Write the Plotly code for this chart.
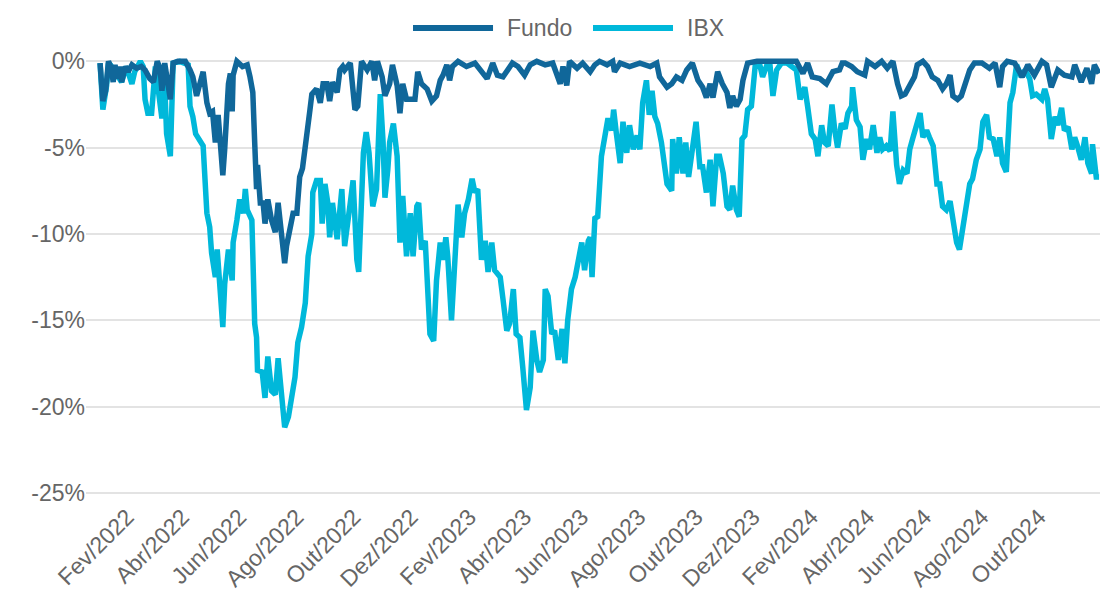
import pandas as pd
import plotly.graph_objects as go

# Drawdown (%) of the fund and of the IBX index, indexed by days since the first session
INICIO = pd.Timestamp("2022-01-03")

fundo_dias = [
    0, 3, 6, 9, 12, 14, 16, 18, 21, 23,
    27, 30, 34, 39, 44, 48, 53, 57, 61, 64,
    66, 69, 75, 78, 83, 91, 96, 99, 103, 107,
    110, 114, 117, 120, 123, 126, 130, 131, 133, 135,
    137, 139, 141, 142, 146, 152, 157, 160, 163, 165,
    167, 168, 171, 174, 176, 179, 183, 187, 190, 194,
    197, 199, 203, 206, 210, 213, 216, 221, 224, 226,
    231, 235, 238, 242, 245, 248, 253, 256, 259, 261,
    267, 272, 275, 279, 285, 290, 293, 296, 301, 304,
    309, 312, 317, 320, 323, 327, 333, 336, 339, 343,
    349, 354, 359, 363, 366, 370, 373, 376, 382, 391,
    400, 405, 413, 419, 424, 430, 435, 440, 446, 453,
    459, 466, 475, 483, 491, 494, 498, 501, 509, 515,
    523, 528, 533, 541, 547, 549, 555, 565, 576, 587,
    594, 597, 605, 610, 615, 621, 626, 632, 638, 643,
    647, 651, 654, 659, 664, 669, 672, 675, 679, 683,
    686, 691, 701, 715, 731, 743, 747, 750, 755, 760,
    768, 775, 782, 789, 792, 795, 802, 808, 816, 819,
    827, 834, 840, 846, 851, 855, 859, 864, 869, 872,
    878, 883, 888, 894, 899, 903, 907, 910, 915, 919,
    923, 928, 933, 941, 949, 955, 960, 963, 968, 976,
    984, 990, 997, 1005, 1010, 1015, 1022, 1029, 1037, 1040,
    1047, 1053, 1058, 1061, 1066,
]
fundo_dd = [
    -0.1, -2.3, -1.7, 0.0, -0.4, -1.2, -0.2, -1.0, -0.3, -1.2,
    -0.3, -0.6, -0.2, -0.4, -0.3, -0.5, -1.0, -1.2, 0.0, -0.4,
    -1.7, -0.1, -2.2, -0.1, 0.0, 0.0, -0.5, -0.9, -2.0, -1.1,
    -0.6, -2.4, -3.0, -2.9, -4.7, -3.1, -5.9, -6.6, -5.1, -2.8,
    -1.3, -0.7, -2.9, -0.8, 0.0, -0.3, -0.2, -0.9, -1.8, -4.7,
    -7.4, -6.0, -8.2, -8.2, -9.4, -8.0, -9.2, -9.9, -8.2, -10.2,
    -11.7, -10.7, -9.4, -8.8, -8.8, -6.7, -6.2, -4.4, -2.8, -1.9,
    -1.6, -2.4, -1.3, -1.3, -2.3, -1.2, -1.8, -0.5, -0.3, -0.5,
    -0.1, -2.8, -2.6, 0.0, -0.5, 0.0, -1.1, 0.0, -0.9, -2.0,
    -1.3, -0.2, -1.4, -3.0, -1.3, -2.2, -2.2, -2.2, -0.6, -1.3,
    -1.6, -2.3, -2.0, -1.1, -0.8, -0.2, -1.1, -0.3, 0.0, -0.3,
    -0.1, -0.4, -1.0, -0.1, -0.8, -0.9, -0.5, -0.1, -0.3, -0.8,
    -0.2, 0.0, -0.2, -0.1, -1.3, -0.3, -1.4, 0.0, -0.4, -0.1,
    -0.6, -0.2, 0.0, -0.2, 0.0, -0.6, -0.1, -0.3, -0.1, -0.3,
    -0.1, -0.9, -1.5, -1.3, -0.9, -1.1, -0.5, -0.1, -1.1, -1.5,
    -2.1, -1.3, -2.1, -0.6, -1.3, -1.8, -2.7, -2.0, -2.6, -2.2,
    -1.1, -0.1, 0.0, 0.0, 0.0, 0.0, -0.4, -0.7, -0.1, -0.9,
    -1.0, -1.3, -0.6, -0.5, -0.1, -0.1, -0.3, -0.6, -0.8, 0.0,
    -0.3, 0.0, -0.4, 0.0, -1.3, -2.0, -1.9, -1.4, -0.9, -0.2,
    0.0, -0.3, -0.9, -1.1, -1.6, -1.3, -0.8, -2.0, -2.2, -2.0,
    -1.3, -0.5, -0.1, -0.1, -0.4, -0.1, -1.5, -0.3, 0.0, -0.1,
    -0.9, -0.2, -0.8, 0.0, -0.2, -1.5, -0.5, -0.8, -0.9, -0.2,
    -1.2, -0.4, -1.3, -0.2, -0.7,
]

ibx_dias = [
    0, 3, 7, 9, 11, 16, 23, 28, 34, 37,
    43, 46, 48, 51, 55, 59, 62, 66, 69, 71,
    75, 78, 85, 94, 96, 99, 102, 107, 110, 114,
    117, 119, 123, 125, 129, 131, 133, 137, 141, 142,
    146, 149, 153, 155, 157, 162, 165, 167, 168, 173,
    176, 179, 183, 187, 190, 194, 197, 201, 205, 208,
    211, 215, 219, 222, 226, 227, 231, 235, 237, 240,
    243, 245, 248, 253, 258, 261, 267, 270, 274, 276,
    281, 284, 287, 291, 295, 299, 302, 304, 307, 309,
    313, 317, 320, 323, 327, 331, 334, 338, 340, 343,
    347, 349, 352, 356, 359, 363, 366, 369, 371, 375,
    379, 382, 386, 389, 393, 397, 400, 403, 407, 411,
    414, 418, 421, 427, 430, 434, 437, 441, 444, 448,
    451, 455, 459, 462, 466, 469, 473, 475, 478, 482,
    485, 489, 493, 496, 499, 503, 507, 510, 514, 517,
    521, 523, 525, 528, 531, 535, 539, 542, 546, 548,
    551, 555, 558, 562, 565, 569, 573, 576, 579, 583,
    586, 589, 592, 595, 599, 605, 610, 611, 615, 618,
    622, 625, 628, 633, 636, 640, 643, 647, 651, 654,
    658, 661, 665, 669, 672, 675, 679, 682, 685, 688,
    691, 695, 699, 704, 707, 711, 715, 718, 722, 727,
    733, 738, 743, 747, 752, 755, 759, 763, 766, 770,
    773, 777, 781, 784, 787, 791, 795, 798, 802, 803,
    807, 811, 814, 818, 821, 825, 829, 832, 835, 839,
    843, 846, 850, 853, 857, 861, 864, 867, 871, 875,
    878, 882, 885, 889, 893, 896, 899, 903, 907, 910,
    914, 917, 921, 925, 928, 931, 935, 939, 942, 946,
    949, 953, 957, 960, 963, 967, 971, 974, 978, 983,
    987, 992, 995, 999, 1005, 1008, 1011, 1015, 1019, 1022,
    1026, 1029, 1033, 1037, 1040, 1043, 1047, 1051, 1054, 1058,
    1059, 1063, 1066,
]
ibx_dd = [
    -0.1, -2.8, -1.4, -0.1, -0.2, -0.6, -1.2, -0.3, -1.3, -0.6,
    0.0, -0.3, -2.2, -3.0, -3.0, -0.3, -1.6, -3.3, -1.3, -4.2,
    -5.5, -0.1, 0.0, -0.2, -2.6, -3.2, -4.2, -4.7, -4.9, -8.8,
    -9.6, -11.1, -12.5, -10.9, -13.8, -15.4, -12.9, -10.9, -12.7, -10.5,
    -9.2, -8.0, -8.8, -7.4, -8.6, -9.2, -15.2, -16.0, -17.9, -18.0,
    -19.5, -17.1, -19.1, -19.3, -17.2, -19.4, -21.2, -20.6, -19.0, -18.3,
    -16.3, -15.4, -14.0, -11.3, -10.0, -7.6, -6.9, -6.9, -9.4, -7.1,
    -8.2, -10.2, -8.2, -10.3, -7.4, -10.7, -8.2, -6.9, -11.5, -12.2,
    -5.3, -4.1, -5.3, -8.4, -7.4, -1.9, -4.7, -7.9, -6.3, -4.7,
    -3.6, -5.5, -10.5, -7.8, -11.3, -8.8, -11.3, -8.4, -8.2, -10.9,
    -10.4, -12.7, -15.8, -16.2, -12.7, -10.5, -11.5, -10.2, -11.3, -15.0,
    -11.1, -8.3, -10.2, -8.8, -8.0, -6.8, -7.6, -7.4, -11.5, -10.4,
    -12.2, -10.5, -12.1, -12.5, -13.8, -15.6, -15.2, -13.2, -15.8, -16.0,
    -17.7, -20.2, -18.9, -15.6, -17.3, -18.0, -17.3, -13.2, -13.6, -15.8,
    -15.6, -17.3, -15.5, -17.5, -15.0, -13.2, -12.5, -11.7, -10.5, -12.1,
    -10.4, -10.2, -12.5, -9.1, -9.0, -5.5, -4.0, -3.3, -4.0, -2.8,
    -4.2, -5.9, -3.5, -5.3, -3.7, -5.1, -4.3, -5.1, -2.4, -1.1,
    -3.1, -1.7, -3.2, -3.6, -4.7, -7.1, -7.5, -4.5, -6.5, -4.4,
    -6.5, -4.7, -6.7, -4.5, -3.5, -6.1, -6.1, -7.6, -5.7, -8.4,
    -5.5, -5.5, -6.5, -8.4, -8.6, -7.2, -8.6, -9.0, -4.5, -4.3,
    -2.8, -2.6, -0.3, -0.2, -0.9, -0.3, -0.3, -2.0, -0.5, -0.1,
    -0.1, -0.3, -0.5, -2.2, -1.5, -2.6, -4.2, -4.5, -5.5, -3.7,
    -4.7, -4.9, -2.5, -4.0, -5.0, -3.6, -3.9, -3.0, -2.6, -1.5,
    -3.4, -3.8, -5.7, -4.5, -5.1, -3.7, -5.3, -4.4, -5.1, -4.9,
    -5.2, -2.9, -6.0, -7.1, -6.3, -6.5, -5.1, -4.5, -3.8, -3.0,
    -4.4, -4.0, -4.4, -4.9, -7.1, -7.1, -8.4, -8.6, -8.1, -9.2,
    -10.5, -10.9, -9.6, -8.2, -7.1, -6.8, -5.7, -5.1, -3.5, -3.1,
    -4.4, -4.5, -5.5, -4.4, -5.9, -6.4, -2.4, -1.8, -0.2, -0.9,
    -0.5, -1.0, -2.0, -1.9, -2.2, -1.6, -2.2, -4.5, -3.2, -3.7,
    -2.7, -4.0, -3.8, -5.1, -4.4, -4.9, -5.7, -4.4, -5.9, -6.5,
    -4.8, -6.7, -6.7,
]

assert len(fundo_dias) == len(fundo_dd)
assert len(ibx_dias) == len(ibx_dd)

# Axis ticks
x_ticks = [
    "2022-02-01", "2022-04-01", "2022-06-01", "2022-08-01", "2022-10-01", "2022-12-01",
    "2023-02-01", "2023-04-01", "2023-06-01", "2023-08-01", "2023-10-01", "2023-12-01",
    "2024-02-01", "2024-04-01", "2024-06-01", "2024-08-01", "2024-10-01",
]
x_rotulos = [
    "Fev/2022", "Abr/2022", "Jun/2022", "Ago/2022", "Out/2022", "Dez/2022",
    "Fev/2023", "Abr/2023", "Jun/2023", "Ago/2023", "Out/2023", "Dez/2023",
    "Fev/2024", "Abr/2024", "Jun/2024", "Ago/2024", "Out/2024",
]
y_ticks = [0, -5, -10, -15, -20, -25]
y_rotulos = ["0%", "-5%", "-10%", "-15%", "-20%", "-25%"]

COR_FUNDO = "#10679a"
COR_IBX = "#00b8da"
COR_TEXTO = "#666666"
FONTE = "Liberation Sans, Arial, sans-serif"
TAM = 23
ESPESSURA = 5.5

fundo_x = INICIO + pd.to_timedelta(fundo_dias, unit="D")
ibx_x = INICIO + pd.to_timedelta(ibx_dias, unit="D")

fig = go.Figure()
fig.add_trace(go.Scatter(x=ibx_x, y=ibx_dd, mode="lines", name="IBX",
                         line=dict(color=COR_IBX, width=ESPESSURA), showlegend=False))
fig.add_trace(go.Scatter(x=fundo_x, y=fundo_dd, mode="lines", name="Fundo",
                         line=dict(color=COR_FUNDO, width=ESPESSURA), showlegend=False))

# Legend drawn as line samples with labels, centred above the plot
LEG_Y = 1.0515
for x0, x1, cor, texto in [(0.3225, 0.4014, COR_FUNDO, "Fundo"),
                           (0.5, 0.5789, COR_IBX, "IBX")]:
    fig.add_shape(type="line", xref="paper", yref="paper",
                  x0=x0, x1=x1, y0=LEG_Y, y1=LEG_Y,
                  line=dict(color=cor, width=6))
    fig.add_annotation(xref="paper", yref="paper", x=x1 + 0.0118, y=LEG_Y,
                       xanchor="left", yanchor="middle", showarrow=False,
                       text=texto, font=dict(family=FONTE, size=TAM, color=COR_TEXTO))

fig.update_layout(
    width=1100, height=603, autosize=False,
    margin=dict(l=86, r=0, t=51, b=105),
    paper_bgcolor="white", plot_bgcolor="white",
    font=dict(family=FONTE, size=TAM, color=COR_TEXTO),
    showlegend=False,
    xaxis=dict(
        type="date",
        range=[INICIO - pd.Timedelta(days=15), INICIO + pd.Timedelta(days=1067)],
        tickmode="array", tickvals=x_ticks, ticktext=x_rotulos,
        tickangle=-45, showgrid=False, zeroline=False, showline=False, ticks="",
        tickfont=dict(family=FONTE, size=TAM, color=COR_TEXTO),
    ),
    yaxis=dict(
        range=[-25.3, 0.6],
        tickmode="array", tickvals=y_ticks, ticktext=y_rotulos,
        showgrid=True, gridcolor="#e3e3e3", gridwidth=2,
        zeroline=False, showline=False, ticks="",
        tickfont=dict(family=FONTE, size=TAM, color=COR_TEXTO),
    ),
)

fig.write_html("out.html")
